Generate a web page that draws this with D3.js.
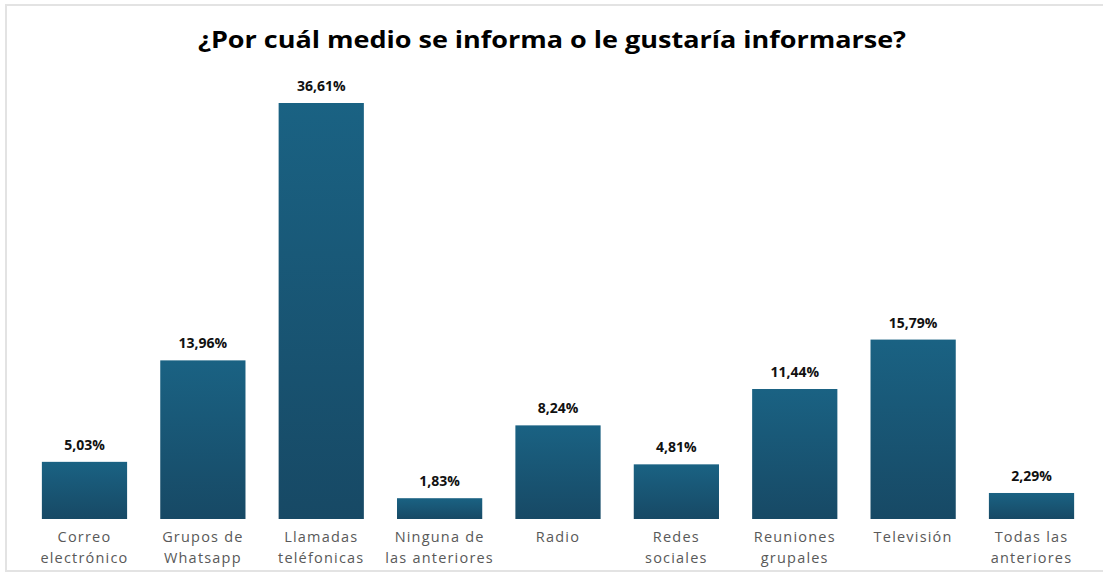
<!DOCTYPE html>
<html><head><meta charset="utf-8">
<script src="https://cdn.jsdelivr.net/npm/d3@7"></script>
<style>body{margin:0;background:#fff;}svg{display:block;}</style>
</head><body>
<svg id="c" width="1103" height="574"></svg>
<script>
const categories = [
  ["Correo","electrónico"],
  ["Grupos de","Whatsapp"],
  ["Llamadas","teléfonicas"],
  ["Ninguna de","las anteriores"],
  ["Radio"],
  ["Redes","sociales"],
  ["Reuniones","grupales"],
  ["Televisión"],
  ["Todas las","anteriores"]
];
const values = [5.03, 13.96, 36.61, 1.83, 8.24, 4.81, 11.44, 15.79, 2.29];
const valueLabels = ["5,03%","13,96%","36,61%","1,83%","8,24%","4,81%","11,44%","15,79%","2,29%"];
const title = "¿Por cuál medio se informa o le gustaría informarse?";

const svg = d3.select("#c");
const W = 1103, H = 574;

// frame
svg.append("rect").attr("x",6).attr("y",5).attr("width",W).attr("height",566)
  .attr("fill","#fff").attr("stroke","#e3e3e3").attr("stroke-width",2);

const defs = svg.append("defs");
const grad = defs.append("linearGradient").attr("id","g").attr("x1",0).attr("y1",0).attr("x2",0).attr("y2",1);
grad.append("stop").attr("offset","0%").attr("stop-color","#1a6283");
grad.append("stop").attr("offset","100%").attr("stop-color","#174965");

const idx = values.map((d,i)=>i);
const x = d3.scaleBand().domain(idx).range([25.3, 1090.7]).paddingInner(0.28).paddingOuter(0.14);
const y = d3.scaleLinear().domain([0, 36.61]).range([519, 103]);

svg.append("text").attr("x", 552).attr("y", 48).attr("text-anchor","middle")
  .attr("font-family","'Open Sans', sans-serif").attr("font-weight",700)
  .attr("font-size",22.5).attr("fill","#000").attr("textLength",708).attr("lengthAdjust","spacingAndGlyphs")
  .text(title);

svg.append("g").selectAll("text").data(idx).join("text")
  .attr("x", i=>x(i)+x.bandwidth()/2).attr("y", i=>y(values[i])-12)
  .attr("text-anchor","middle").attr("font-family","'Open Sans', sans-serif")
  .attr("font-weight",700).attr("font-size",14).attr("fill","#111")
  .text(i=>valueLabels[i]);

svg.append("g").selectAll("rect").data(idx).join("rect")
  .attr("x", i=>x(i)).attr("width", x.bandwidth())
  .attr("y", i=>y(values[i])).attr("height", i=>y(0)-y(values[i]))
  .attr("fill","url(#g)");

const lab = svg.append("g").selectAll("text").data(idx).join("text")
  .attr("text-anchor","middle").attr("font-family","'Open Sans', sans-serif")
  .attr("font-size",14.5).attr("fill","#595959").attr("letter-spacing",1.2);
lab.each(function(i){
  const t = d3.select(this);
  categories[i].forEach((line,k)=>{
    t.append("tspan").attr("x", x(i)+x.bandwidth()/2).attr("y", 542 + k*21).text(line);
  });
});
</script>
</body></html>
